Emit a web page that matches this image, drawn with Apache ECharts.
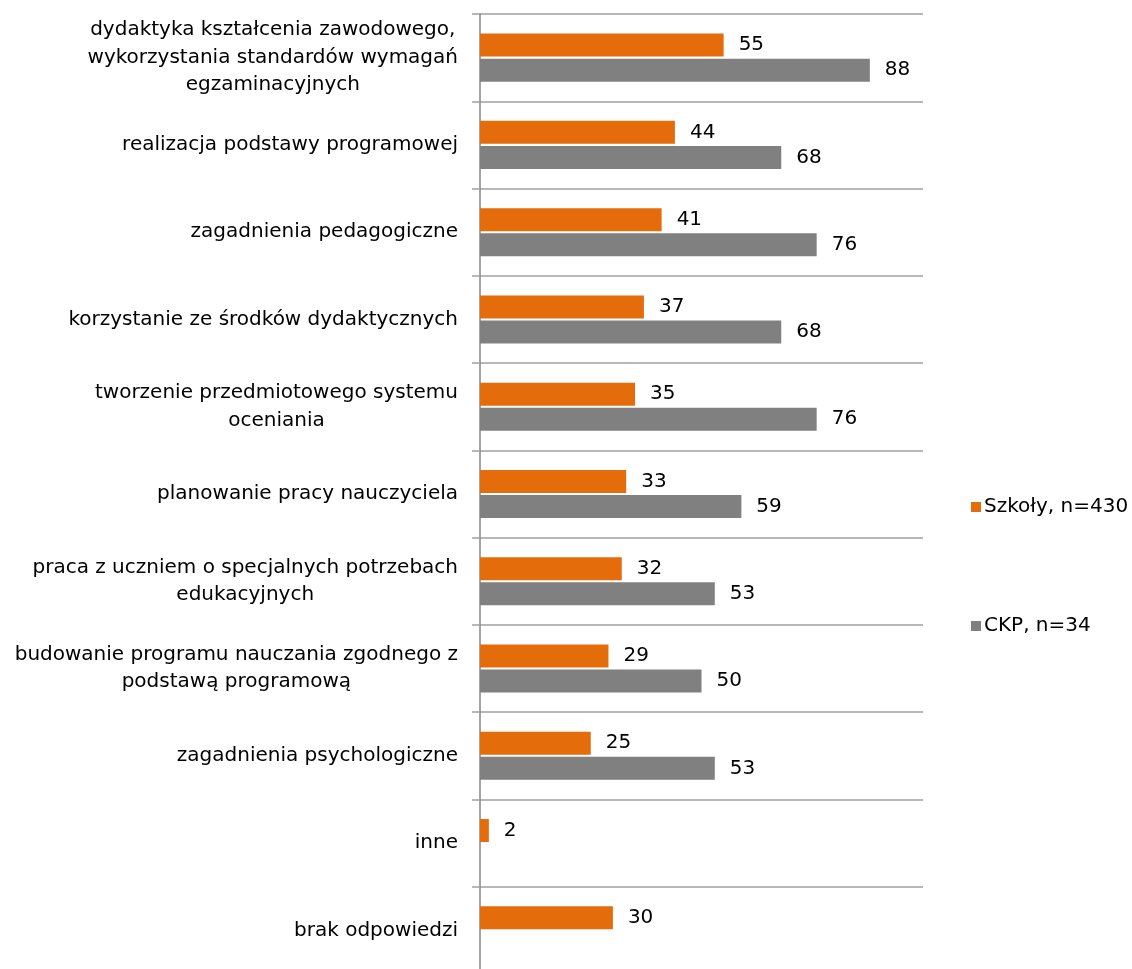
<!DOCTYPE html>
<html>
<head>
<meta charset="utf-8">
<script src="https://cdn.jsdelivr.net/npm/echarts@6/dist/echarts.min.js"></script>
<style>html,body{margin:0;padding:0;background:#fff;overflow:hidden;height:969px;}#c{width:1132px;height:974px;}</style>
</head>
<body>
<div id="c"></div>
<script>
const categories = [
  "dydaktyka kształcenia zawodowego,\nwykorzystania standardów wymagań\negzaminacyjnych",
  "realizacja podstawy programowej",
  "zagadnienia pedagogiczne",
  "korzystanie ze środków dydaktycznych",
  "tworzenie przedmiotowego systemu\noceniania",
  "planowanie pracy nauczyciela",
  "praca z uczniem o specjalnych potrzebach\nedukacyjnych",
  "budowanie programu nauczania zgodnego z\npodstawą programową",
  "zagadnienia psychologiczne",
  "inne",
  "brak odpowiedzi"
];
const seriesNames = ["Szkoły, n=430", "CKP, n=34"];
const szkoly = [55, 44, 41, 37, 35, 33, 32, 29, 25, 2, 30];
const ckp = [88, 68, 76, 68, 76, 59, 53, 50, 53, null, null];

const FONT = "DejaVu Sans";
const FS = 20;
const chart = echarts.init(document.getElementById('c'), null, {renderer: 'canvas'});
const labelStyle = {show: true, position: 'right', distance: 15, color: '#000', fontFamily: FONT, fontSize: FS};
chart.setOption({
  animation: false,
  backgroundColor: '#fff',
  textStyle: {fontFamily: FONT},
  grid: {left: 480, top: 14, right: 209, bottom: 0, containLabel: false},
  legend: {
    orient: 'vertical', left: 966, top: 492, itemGap: 99,
    icon: 'rect', itemWidth: 10, itemHeight: 10,
    textStyle: {fontFamily: FONT, fontSize: FS, color: '#000', padding: [0,0,0,-2]},
    data: seriesNames
  },
  xAxis: {type: 'value', min: 0, max: 100, show: false},
  yAxis: {
    type: 'category', inverse: true, data: categories,
    axisLine: {show: true, lineStyle: {color: '#868686', width: 1.5}},
    axisTick: {show: true, length: 8, lineStyle: {color: '#a0a0a0', width: 1.5}},
    splitLine: {show: true, lineStyle: {color: '#a0a0a0', width: 1.5}},
    axisLabel: {
      margin: 22, color: '#000', fontFamily: FONT, fontSize: FS, lineHeight: 27.5,
      formatter: v => v.split('\n').map(l => '{c|' + l + '}').join('\n'),
      rich: {c: {align: 'center', fontFamily: FONT, fontSize: FS, lineHeight: 27.5, color: '#000'}}
    }
  },
  series: [
    {name: seriesNames[0], type: 'bar', data: szkoly, barWidth: 23, barGap: '9%',
     itemStyle: {color: '#E46C0A'}, label: labelStyle},
    {name: seriesNames[1], type: 'bar', data: ckp, barWidth: 23,
     itemStyle: {color: '#808080'}, label: labelStyle}
  ]
});
</script>
</body>
</html>
